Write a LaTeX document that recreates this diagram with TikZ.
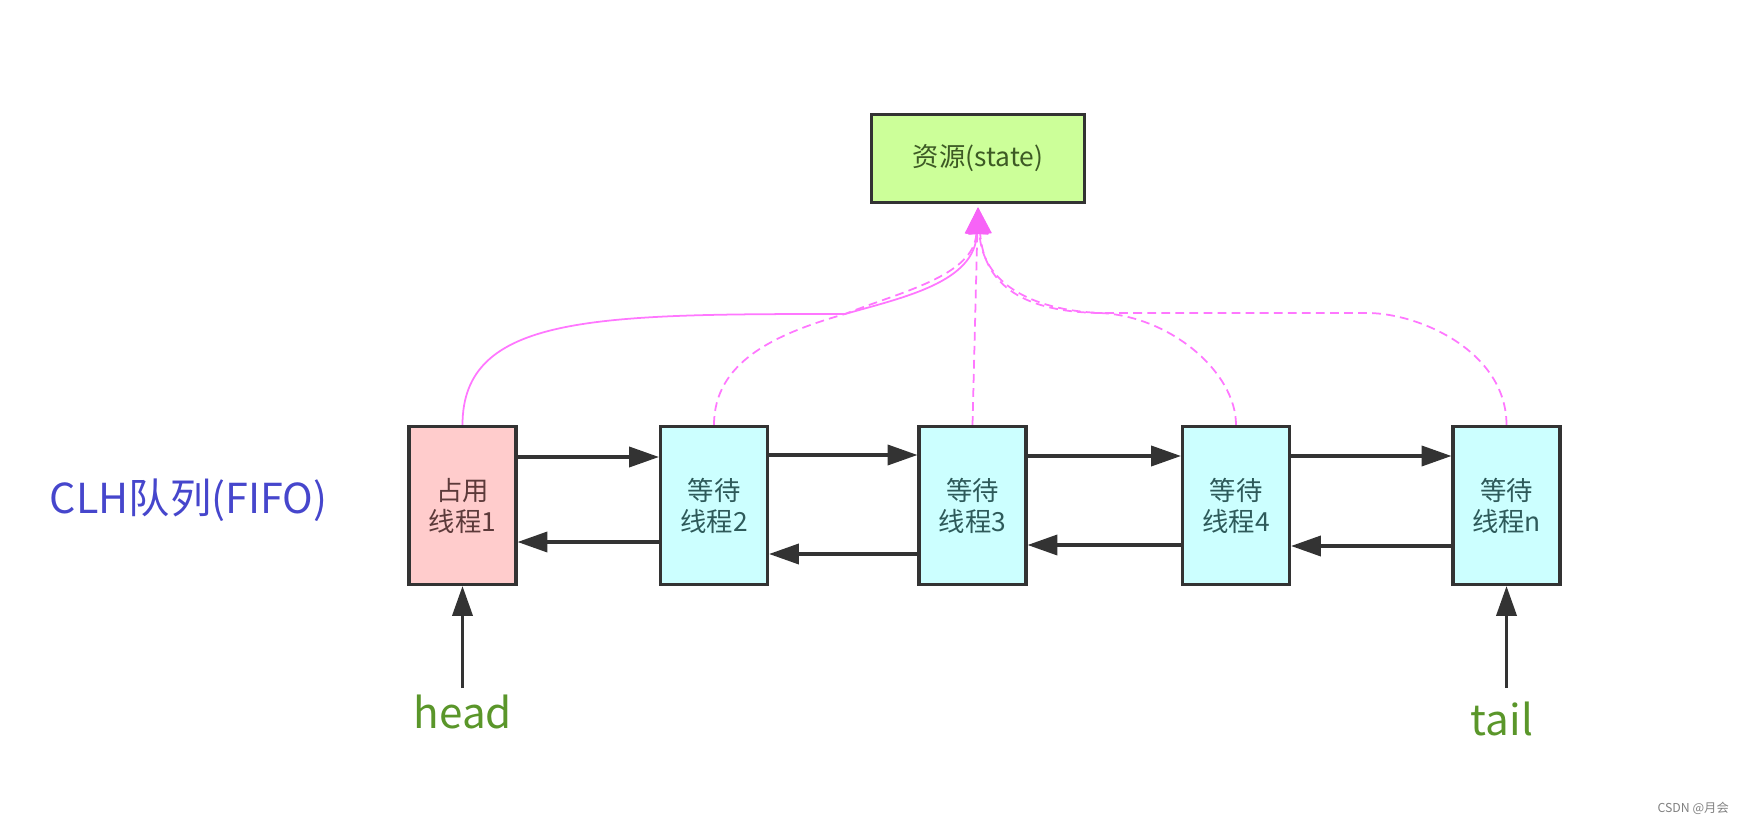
\documentclass[tikz,border=0pt]{standalone}
\usepackage{fontspec}
\newfontfamily\cjk{Noto Sans CJK SC}
\usetikzlibrary{arrows.meta}

\definecolor{edge}{HTML}{333333}
\definecolor{busyfill}{HTML}{FFCCCC}
\definecolor{waitfill}{HTML}{CCFFFF}
\definecolor{resfill}{HTML}{CCFF99}
\definecolor{busytext}{HTML}{5C3A3A}
\definecolor{waittext}{HTML}{2E5A5A}
\definecolor{restext}{HTML}{3D5A25}
\definecolor{casline}{HTML}{FF77FF}
\definecolor{castip}{HTML}{F763F7}
\definecolor{queueblue}{HTML}{4646CC}
\definecolor{ptrgreen}{HTML}{5A962A}

\begin{document}
\begin{tikzpicture}[x=0.02cm,y=0.02cm,
  thread/.style={draw=edge,line width=1.8pt,minimum width=2.14cm,minimum height=3.16cm,
    inner sep=0pt,align=center,font=\cjk\fontsize{15}{17.6}\selectfont},
  busy/.style={thread,fill=busyfill,text=busytext},
  waiting/.style={thread,fill=waitfill,text=waittext},
  link/.style={edge,line width=1.8pt,-{Triangle[length=17pt,width=11.5pt]}},
  cas/.style={casline,line width=1pt,shorten >=2pt,-{Triangle[length=15pt,width=13pt,color=castip]}},
  casdash/.style={cas,dash pattern=on 5pt off 3pt},
  ptr/.style={ptrgreen,anchor=base,font=\cjk\fontsize{24}{28}\selectfont}]
\useasboundingbox (0,0) rectangle (1750,822);

% Resource
\node[draw=edge,line width=1.8pt,fill=resfill,text=restext,minimum width=4.26cm,minimum height=1.76cm,
  font=\cjk\fontsize{15}{18}\selectfont] (res) at (978,663.5) {资源(state)};

% Queue nodes
\node[busy] (t1) at (462.5,316.5) {占用\\线程1};
\node[waiting] (t2) at (714,316.5) {等待\\线程2};
\node[waiting] (t3) at (972.5,316.5) {等待\\线程3};
\node[waiting] (t4) at (1236,316.5) {等待\\线程4};
\node[waiting] (tn) at (1506.5,316.5) {等待\\线程n};

\node[queueblue,anchor=base,font=\cjk\fontsize{23.5}{28}\selectfont] (clh) at (188.5,309) {CLH队列(FIFO)};

% next links
\draw[link] (t1.east |- 0,365) -- (t2.west |- 0,365);
\draw[link] (t2.east |- 0,367) -- (t3.west |- 0,367);
\draw[link] (t3.east |- 0,366) -- (t4.west |- 0,366);
\draw[link] (t4.east |- 0,366) -- (tn.west |- 0,366);

% prev links
\draw[link] (t2.west |- 0,280) -- (t1.east |- 0,280);
\draw[link] (t3.west |- 0,268) -- (t2.east |- 0,268);
\draw[link] (t4.west |- 0,277) -- (t3.east |- 0,277);
\draw[link] (tn.west |- 0,276) -- (t4.east |- 0,276);

% head / tail
\node[ptr] (head) at (463,94) {head};
\node[ptr] (tail) at (1502,87) {tail};
\draw[link] (t1.south |- 0,134) -- (t1.south);
\draw[link] (tn.south |- 0,134) -- (tn.south);

% Access to the state
\coordinate (jl) at (845,508);
\coordinate (jr) at (1100,509);
\coordinate (bend) at (1367,509);
\draw[cas] (t1.north) .. controls +(0,110) and +(-250,0) .. (jl)
  .. controls +(60,17) and +(-3,-78) .. (res.south);
\draw[casdash] (t2.north) .. controls +(0,63) and +(-70,-20) .. (jl)
  .. controls +(55,22) and +(-4,-72) .. (res.south);
\draw[casdash] (t3.north) -- (res.south);
\draw[casdash] (t4.north) .. controls +(0,53) and +(70,-3) .. (jr)
  .. controls +(-70,3) and +(4,-78) .. (res.south);
\draw[casdash] (tn.north) .. controls +(0,73) and +(53,0) .. (bend) -- (jr)
  .. controls +(-75,1) and +(6,-82) .. (res.south);

\node[gray,anchor=base east,font=\cjk\fontsize{7}{8}\selectfont] (mark) at (1735,10) {CSDN @月会};
\end{tikzpicture}
\end{document}
